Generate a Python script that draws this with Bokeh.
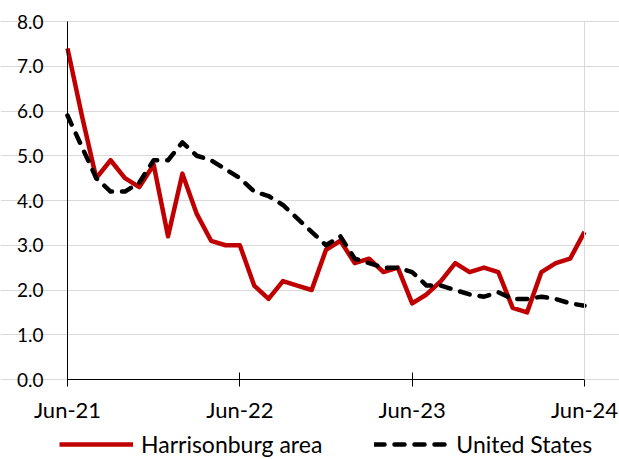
from bokeh.plotting import figure
from bokeh.models import (FixedTicker, NumeralTickFormatter, Legend, LegendItem, Range1d,
                          ColumnDataSource, LinearAxis)
from bokeh.embed import file_html
from bokeh.resources import INLINE

months = ["Jun-21", "Jul-21", "Aug-21", "Sep-21", "Oct-21", "Nov-21", "Dec-21",
          "Jan-22", "Feb-22", "Mar-22", "Apr-22", "May-22", "Jun-22", "Jul-22",
          "Aug-22", "Sep-22", "Oct-22", "Nov-22", "Dec-22", "Jan-23", "Feb-23",
          "Mar-23", "Apr-23", "May-23", "Jun-23", "Jul-23", "Aug-23", "Sep-23",
          "Oct-23", "Nov-23", "Dec-23", "Jan-24", "Feb-24", "Mar-24", "Apr-24",
          "May-24", "Jun-24"]
harrisonburg = [7.4, 5.9, 4.5, 4.9, 4.5, 4.3, 4.8, 3.2, 4.6, 3.7, 3.1, 3.0, 3.0,
                2.1, 1.8, 2.2, 2.1, 2.0, 2.9, 3.1, 2.6, 2.7, 2.4, 2.5, 1.7, 1.9,
                2.2, 2.6, 2.4, 2.5, 2.4, 1.6, 1.5, 2.4, 2.6, 2.7, 3.3]
united_states = [5.9, 5.2, 4.5, 4.2, 4.2, 4.4, 4.9, 4.9, 5.3, 5.0, 4.9, 4.7, 4.5,
                 4.2, 4.1, 3.9, 3.6, 3.3, 3.0, 3.2, 2.7, 2.6, 2.5, 2.5, 2.4, 2.1,
                 2.1, 2.0, 1.9, 1.85, 1.95, 1.8, 1.8, 1.85, 1.8, 1.7, 1.65]
tick_labels = ["Jun-21", "Jun-22", "Jun-23", "Jun-24"]
y_ticks = [0, 1, 2, 3, 4, 5, 6, 7, 8]

idx = list(range(len(months)))
tick_pos = [months.index(t) for t in tick_labels]
src = ColumnDataSource(dict(x=idx, h=harrisonburg, us=united_states))

# ---- layout (pixels) ----
W, H = 619, 459
PL, PR, PT, PB = 67, 584, 21, 379     # plot-area edges in page pixels
FONT = "Lato"

x0, x1 = idx[0], idx[-1]
y0, y1 = y_ticks[0], y_ticks[-1]
xs = (x1 - x0) / (PR - PL)
ys = (y1 - y0) / (PB - PT)
x_range = Range1d(x0 - PL * xs, x1 + (W - PR) * xs)
y_range = Range1d(y0 - (H - PB) * ys, y1 + PT * ys)

p = figure(frame_width=W, frame_height=H, output_backend="svg", toolbar_location=None,
           x_range=x_range, y_range=y_range,
           min_border_left=0, min_border_right=0, min_border_top=0, min_border_bottom=0)
p.background_fill_color = "white"
p.border_fill_color = "white"
p.outline_line_color = None

p.xgrid.grid_line_color = None
p.ygrid.grid_line_color = "#d9d9d9"
p.ygrid.grid_line_width = 1
p.ygrid.ticker = FixedTicker(ticks=y_ticks)
p.ygrid.bounds = (x0, x1)

p.yaxis.fixed_location = x0
p.yaxis.ticker = FixedTicker(ticks=y_ticks)
p.yaxis.bounds = (y0, y1)
p.yaxis.formatter = NumeralTickFormatter(format="0.0")
p.yaxis.axis_line_color = "black"
p.yaxis.axis_line_width = 1
p.yaxis.major_tick_line_color = None
p.yaxis.minor_tick_line_color = None
p.yaxis.major_tick_out = 0
p.yaxis.major_tick_in = 0
p.yaxis.major_label_standoff = 24
p.yaxis.major_label_text_font = FONT
p.yaxis.major_label_text_font_size = "19px"
p.yaxis.major_label_text_color = "black"

# right-hand light border of the plot area
right_axis = LinearAxis(ticker=FixedTicker(ticks=[]), bounds=(y0, y1), fixed_location=x1,
                        axis_line_color="#d9d9d9", major_tick_line_color=None,
                        minor_tick_line_color=None, major_label_text_font_size="0px")
p.add_layout(right_axis, "right")

p.xaxis.fixed_location = y0
p.xaxis.bounds = (x0, x1)
p.xaxis.ticker = FixedTicker(ticks=tick_pos)
p.xaxis.major_label_overrides = {pos: lab for pos, lab in zip(tick_pos, tick_labels)}
p.xaxis.axis_line_color = "black"
p.xaxis.axis_line_width = 1
p.xaxis.major_tick_line_color = "black"
p.xaxis.major_tick_in = 7
p.xaxis.major_tick_out = 7
p.xaxis.minor_tick_line_color = None
p.xaxis.major_label_standoff = 9
p.xaxis.major_label_text_font = FONT
p.xaxis.major_label_text_font_size = "22px"
p.xaxis.major_label_text_color = "black"

r_h = p.line("x", "h", source=src, line_color="#C00000", line_width=4.5,
             line_join="round")
r_us = p.line("x", "us", source=src, line_color="black", line_width=4.5,
              line_dash="10 10", line_cap="round", line_join="round")

legend = Legend(items=[LegendItem(label="Harrisonburg area", renderers=[r_h]),
                       LegendItem(label="United States", renderers=[r_us])],
                orientation="horizontal", location=(59, 1))
legend.label_text_font = FONT
legend.label_text_font_size = "23px"
legend.label_text_color = "black"
legend.glyph_width = 74
legend.glyph_height = 24
legend.label_height = 24
legend.label_standoff = 8
legend.spacing = 52
legend.padding = 0
legend.margin = 0
legend.border_line_color = None
legend.background_fill_alpha = 0
p.add_layout(legend, "center")

open("out.html", "w").write(file_html(p, INLINE))
